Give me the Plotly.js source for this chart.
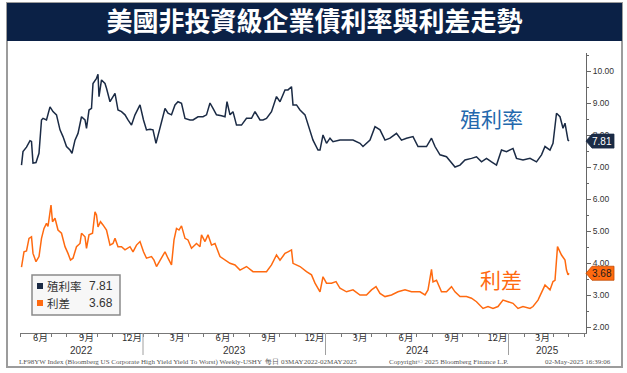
<!DOCTYPE html>
<html>
<head>
<meta charset="utf-8">
<script src="https://cdn.plot.ly/plotly-3.0.1.min.js"></script>
<style>html,body{margin:0;padding:0;background:#fff;}#chart{width:627px;height:373px;}</style>
</head>
<body>
<div id="chart"></div>
<script>
// ---- Data ----
const yieldDates = ['2022-05-03','2022-05-06','2022-05-13','2022-05-20','2022-05-23','2022-05-26','2022-06-01','2022-06-07','2022-06-12','2022-06-15',
'2022-06-22','2022-06-29','2022-07-05','2022-07-12','2022-07-19','2022-07-25','2022-08-01','2022-08-08','2022-08-12','2022-08-18',
'2022-08-24','2022-08-31','2022-09-07','2022-09-10','2022-09-15','2022-09-20','2022-09-23','2022-09-30','2022-10-03','2022-10-05',
'2022-10-10','2022-10-17','2022-10-20','2022-10-27','2022-11-06','2022-11-12','2022-11-19','2022-11-26','2022-12-02','2022-12-09',
'2022-12-16','2022-12-26','2023-01-02','2023-01-08','2023-01-15','2023-01-21','2023-01-27','2023-02-04','2023-02-14','2023-02-20',
'2023-02-27','2023-03-06','2023-03-12','2023-03-19','2023-03-26','2023-04-05','2023-04-11','2023-04-21','2023-05-01','2023-05-08',
'2023-05-15','2023-05-21','2023-05-28','2023-06-07','2023-06-14','2023-06-18','2023-06-24','2023-06-30','2023-07-07','2023-07-17',
'2023-07-27','2023-08-06','2023-08-13','2023-08-23','2023-08-29','2023-09-05','2023-09-15','2023-09-25','2023-10-02','2023-10-12',
'2023-10-18','2023-10-25','2023-10-28','2023-11-04','2023-11-11','2023-11-21','2023-11-27','2023-12-07','2023-12-17','2023-12-21',
'2023-12-27','2024-01-03','2024-01-10','2024-01-16','2024-01-30','2024-02-12','2024-02-25','2024-03-10','2024-03-16','2024-03-30',
'2024-04-09','2024-04-19','2024-04-29','2024-05-09','2024-05-22','2024-06-01','2024-06-11','2024-06-24','2024-07-04','2024-07-21',
'2024-07-31','2024-08-07','2024-08-17','2024-08-30','2024-09-16','2024-09-26','2024-10-06','2024-10-19','2024-10-29','2024-11-08',
'2024-11-18','2024-11-28','2024-12-08','2024-12-18','2024-12-28','2025-01-10','2025-01-17','2025-01-30','2025-02-13','2025-02-26',
'2025-03-08','2025-03-15','2025-03-25','2025-03-31','2025-04-07','2025-04-14','2025-04-20','2025-04-24','2025-04-30','2025-05-02'];
const yieldValues = [7.06,7.48,7.62,7.82,7.80,7.12,7.14,7.43,8.47,8.52,
8.47,8.88,8.73,8.63,8.16,7.95,7.64,7.53,7.43,7.84,
8.05,8.57,8.47,8.21,8.78,8.83,9.61,9.77,9.90,9.20,
9.72,9.61,9.46,9.04,9.30,8.78,8.73,8.63,8.47,8.31,
8.63,8.94,8.47,8.16,8.18,8.16,7.74,8.21,8.83,8.68,
8.63,8.94,9.04,8.99,8.52,8.47,8.47,8.57,8.57,8.63,
9.00,8.83,8.63,8.60,8.57,9.04,8.63,8.73,8.31,8.31,
8.52,8.52,8.73,8.47,8.47,8.52,8.73,9.20,9.04,9.41,
9.41,9.51,8.94,8.94,8.78,8.63,8.31,7.84,7.53,7.53,
8.00,7.74,7.90,7.79,7.84,7.84,7.84,7.74,7.64,7.84,
8.26,8.16,7.84,7.90,8.05,7.84,7.90,7.95,7.64,7.64,
7.90,7.64,7.38,7.32,7.00,7.06,7.22,7.27,7.32,7.16,
7.27,7.16,7.06,7.53,7.48,7.58,7.27,7.22,7.27,7.16,
7.38,7.64,7.53,7.74,8.68,8.57,8.21,8.37,7.84,7.81];

const spreadDates = ['2022-05-03','2022-05-08','2022-05-13','2022-05-18','2022-05-23','2022-05-26','2022-06-01','2022-06-07','2022-06-12','2022-06-17',
'2022-06-22','2022-06-25','2022-07-01','2022-07-04','2022-07-09','2022-07-15','2022-07-22','2022-07-29','2022-08-04','2022-08-09',
'2022-08-14','2022-08-21','2022-08-28','2022-08-31','2022-09-07','2022-09-10','2022-09-15','2022-09-22','2022-09-27','2022-09-30',
'2022-10-03','2022-10-08','2022-10-13','2022-10-20','2022-10-27','2022-11-02','2022-11-06','2022-11-12','2022-11-19','2022-11-26',
'2022-12-06','2022-12-12','2022-12-19','2022-12-26','2023-01-02','2023-01-08','2023-01-18','2023-01-23','2023-01-28','2023-02-04',
'2023-02-14','2023-02-20','2023-02-27','2023-03-04','2023-03-09','2023-03-14','2023-03-19','2023-03-26','2023-04-01','2023-04-08',
'2023-04-18','2023-04-25','2023-04-28','2023-05-05','2023-05-11','2023-05-18','2023-05-25','2023-06-04','2023-06-14','2023-06-24',
'2023-07-04','2023-07-14','2023-07-27','2023-08-09','2023-08-26','2023-09-05','2023-09-15','2023-09-25','2023-10-02','2023-10-12',
'2023-10-18','2023-10-25','2023-10-28','2023-11-11','2023-11-24','2023-12-04','2023-12-11','2023-12-21','2023-12-27','2024-01-03',
'2024-01-13','2024-01-22','2024-01-30','2024-02-12','2024-02-25','2024-03-10','2024-03-23','2024-04-02','2024-04-11','2024-04-19',
'2024-04-29','2024-05-12','2024-05-25','2024-06-08','2024-06-21','2024-07-08','2024-07-18','2024-07-24','2024-07-31','2024-08-03',
'2024-08-10','2024-08-20','2024-08-30','2024-09-09','2024-09-16','2024-09-26','2024-10-09','2024-10-19','2024-10-29','2024-11-11',
'2024-11-21','2024-12-01','2024-12-11','2024-12-21','2024-12-31','2025-01-10','2025-01-20','2025-01-30','2025-02-13','2025-02-19',
'2025-03-01','2025-03-15','2025-03-25','2025-03-31','2025-04-04','2025-04-09','2025-04-17','2025-04-24','2025-04-27','2025-04-30','2025-05-02'];
const spreadValues = [3.87,4.35,4.38,4.77,4.82,4.30,4.04,4.20,4.77,5.08,
5.24,5.14,5.81,5.29,5.40,5.03,4.93,4.51,4.30,4.09,
4.15,4.51,4.61,4.93,4.82,4.46,4.88,4.93,5.60,5.50,
5.13,5.29,5.19,5.03,4.56,4.61,4.77,4.51,4.51,4.41,
4.51,4.35,4.56,4.67,4.35,4.15,4.20,4.09,3.89,4.09,
4.35,4.15,3.94,4.72,5.08,5.03,5.16,4.77,4.72,4.46,
4.61,4.51,4.88,4.67,4.88,4.56,4.61,4.20,4.09,3.99,
3.94,3.78,3.89,3.73,3.73,3.73,3.94,4.25,4.09,4.30,
4.35,4.41,3.99,3.89,3.73,3.63,3.37,3.10,3.57,3.37,
3.37,3.42,3.21,3.10,3.16,3.00,3.00,3.16,3.26,3.05,
2.95,3.00,3.10,3.16,3.10,3.10,3.00,3.16,3.80,3.41,
3.46,3.10,3.10,3.26,3.10,2.95,2.95,2.90,2.79,2.58,
2.64,2.58,2.64,2.84,2.79,2.74,2.58,2.64,2.58,2.64,
2.84,3.31,3.16,3.42,3.46,4.51,4.25,4.09,3.78,3.63,3.68];

const seriesNames = ['殖利率', '利差'];
const monthTickDates = ['2022-06-10','2022-09-10','2022-12-10','2023-03-10','2023-06-10','2023-09-10','2023-12-10','2024-03-10','2024-06-10','2024-09-10','2024-12-10','2025-03-10'];
const monthTickLabels = ['6月','9月','12月','3月','6月','9月','12月','3月','6月','9月','12月','3月'];
const yearLabels = ['2022','2023','2024','2025'];
const yTickValues = [2,3,4,5,6,7,8,9,10];

const titleText = '美國非投資級企業債利率與利差走勢';
const footerLeft = 'LF98YW Index (Bloomberg US Corporate High Yield Yield To Worst) Weekly-USHY  每日 03MAY2022-02MAY2025';
const footerMid = 'Copyright\u00a9 2025 Bloomberg Finance L.P.';
const footerRight = '02-May-2025 16:39:06';

// ---- Styling ----
const NAVY = '#1b2b45';
const ORANGE = '#ff6a10';
const BANNER = '#0b2146';
const xRange = ['2022-04-30', '2025-06-05'];
const yRange = [1.8125, 10.5625];
const CJK = 'Noto Sans CJK TC, Noto Sans, sans-serif';
const LAT = 'Liberation Sans, Arial, sans-serif';

// plot area in pixels: left 20, right 586, top 53, bottom 333
const L = 20, R = 586, T = 53, B = 333;
const px = x => (x - L) / (R - L);
const py = y => (B - y) / (B - T);

const traces = [
  {x: yieldDates, y: yieldValues, name: seriesNames[0], type: 'scatter', mode: 'lines',
   line: {color: NAVY, width: 1.5}, hoverinfo: 'skip'},
  {x: spreadDates, y: spreadValues, name: seriesNames[1], type: 'scatter', mode: 'lines',
   line: {color: ORANGE, width: 1.5}, hoverinfo: 'skip'}
];

const shapes = [];
const annotations = [];

// frame and banner
shapes.push({type: 'rect', xref: 'paper', yref: 'paper', x0: px(7), x1: px(622), y0: py(367), y1: py(3),
  line: {color: '#9c9c9c', width: 2}, fillcolor: 'rgba(0,0,0,0)', layer: 'below'});
shapes.push({type: 'rect', xref: 'paper', yref: 'paper', x0: px(7), x1: px(622), y0: py(41), y1: py(3),
  line: {width: 0}, fillcolor: BANNER, layer: 'below'});

// year separators and labels
const startMs = new Date(xRange[0]).getTime(), endMs = new Date(xRange[1]).getTime();
yearLabels.forEach((yr, i) => {
  const y0 = new Date(yr + '-01-01').getTime();
  const y1 = new Date((+yr + 1) + '-01-01').getTime();
  if (i > 0) {
    shapes.push({type: 'line', xref: 'x', yref: 'paper', x0: yr + '-01-01', x1: yr + '-01-01',
      y0: 0, y1: py(355), line: {color: '#a0a0a0', width: 1}});
  }
  const a = Math.max(y0, startMs), b = Math.min(y1, endMs);
  const mid = new Date((a + b) / 2).toISOString().slice(0, 10);
  annotations.push({xref: 'x', yref: 'paper', x: mid, y: py(350.5), text: yr, showarrow: false,
    xanchor: 'center', yanchor: 'middle', borderpad: 0, font: {family: LAT, size: 10, color: '#333'}});
});

// big series labels
annotations.push({xref: 'paper', yref: 'paper', x: px(491), y: py(118), text: seriesNames[0], showarrow: false,
  font: {family: CJK, size: 21, color: '#2468ad'}, xanchor: 'center', yanchor: 'middle'});
annotations.push({xref: 'paper', yref: 'paper', x: px(501), y: py(279), text: seriesNames[1], showarrow: false,
  font: {family: CJK, size: 21, color: ORANGE}, xanchor: 'center', yanchor: 'middle'});

// legend box
const lastYield = yieldValues[yieldValues.length - 1];
const lastSpread = spreadValues[spreadValues.length - 1];
shapes.push({type: 'rect', xref: 'paper', yref: 'paper', x0: px(32), x1: px(120), y0: py(315), y1: py(275),
  line: {color: '#8a8a8a', width: 1.5}, fillcolor: '#f7f7f7'});
[[NAVY, seriesNames[0], lastYield, 286], [ORANGE, seriesNames[1], lastSpread, 303]].forEach(r => {
  const [c, n, v, yc] = r;
  shapes.push({type: 'rect', xref: 'paper', yref: 'paper', x0: px(37), x1: px(43), y0: py(yc + 3), y1: py(yc - 3),
    line: {width: 0}, fillcolor: c});
  annotations.push({xref: 'paper', yref: 'paper', x: px(46), y: py(yc), text: n, showarrow: false,
    xanchor: 'left', yanchor: 'middle', borderpad: 0, font: {family: CJK, size: 11.5, color: '#333'}});
  annotations.push({xref: 'paper', yref: 'paper', x: px(114), y: py(yc), text: v.toFixed(2), showarrow: false,
    xanchor: 'right', yanchor: 'middle', borderpad: 0, font: {family: LAT, size: 12, color: '#333'}});
});

// value tags at right axis
const halfH = 7 / ((B - T) / (yRange[1] - yRange[0]));
[[lastYield, NAVY, '#ffffff'], [lastSpread, ORANGE, '#1a1a1a']].forEach(t => {
  const [v, bg, fg] = t;
  const xt = px(586), xb = px(592), xe = px(614);
  shapes.push({type: 'path', xref: 'paper', yref: 'y',
    path: `M ${xt} ${v} L ${xb} ${v + halfH} L ${xe} ${v + halfH} L ${xe} ${v - halfH} L ${xb} ${v - halfH} Z`,
    fillcolor: bg, line: {color: bg === ORANGE ? '#c04a00' : bg, width: 0.8}});
  annotations.push({xref: 'paper', yref: 'y', x: px(602), y: v, text: v.toFixed(2), showarrow: false,
    xanchor: 'center', yanchor: 'middle', font: {family: LAT, size: 10, color: fg}});
});

// footer
const footFont = {family: 'Liberation Serif, DejaVu Serif, serif', size: 7, color: '#555'};
annotations.push({xref: 'paper', yref: 'paper', x: px(18), y: py(361.5), text: footerLeft, showarrow: false,
  xanchor: 'left', yanchor: 'middle', borderpad: 0, font: footFont});
annotations.push({xref: 'paper', yref: 'paper', x: px(448), y: py(361.5), text: footerMid, showarrow: false,
  xanchor: 'center', yanchor: 'middle', borderpad: 0, font: footFont});
annotations.push({xref: 'paper', yref: 'paper', x: px(612), y: py(361.5), text: footerRight, showarrow: false,
  xanchor: 'right', yanchor: 'middle', borderpad: 0, font: footFont});

const layout = {
  width: 627, height: 373, autosize: false,
  margin: {l: L, r: 627 - R, t: T, b: 373 - B, pad: 0},
  paper_bgcolor: '#ffffff', plot_bgcolor: '#ffffff',
  showlegend: false,
  title: {text: titleText, x: 314.5 / 627, xanchor: 'center', y: 1 - 22 / 373, yanchor: 'middle',
    font: {family: CJK, size: 26, color: '#ffffff', weight: 'bold'}},
  xaxis: {type: 'date', range: xRange, showgrid: false, zeroline: false,
    showline: true, linecolor: '#777', linewidth: 1,
    tickmode: 'array', tickvals: monthTickDates, ticktext: monthTickLabels,
    ticks: '', ticklen: 0, ticklabelstandoff: -4,
    tickfont: {family: CJK, size: 9.5, color: '#333'},
    minor: {ticks: 'outside', ticklen: 3, tickcolor: '#777', tickwidth: 1, dtick: 'M1', tick0: '2022-01-01', showgrid: false}},
  yaxis: {side: 'right', range: yRange, showgrid: false, zeroline: false,
    showline: true, linecolor: '#666', linewidth: 1,
    tickmode: 'array', tickvals: yTickValues, ticktext: yTickValues.map(v => v.toFixed(2)),
    ticks: 'outside', ticklen: 4, tickcolor: '#666',
    tickfont: {family: LAT, size: 8.5, color: '#333'},
    minor: {ticks: 'outside', ticklen: 2, tickcolor: '#666', dtick: 0.5, showgrid: false}},
  shapes: shapes,
  annotations: annotations
};

Plotly.newPlot('chart', traces, layout, {staticPlot: true, displayModeBar: false});
</script>
</body>
</html>
